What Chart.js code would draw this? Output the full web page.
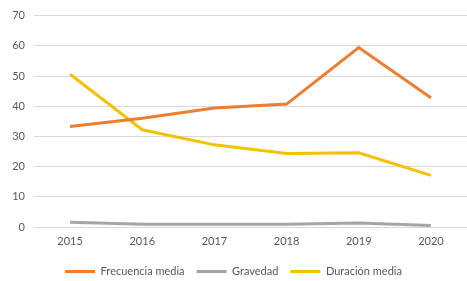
<!DOCTYPE html>
<html>
<head>
<meta charset="utf-8">
<script src="https://cdn.jsdelivr.net/npm/chart.js@4"></script>
<style>
	html, body { margin: 0; padding: 0; background: #fff; }
	#wrap { width: 467px; height: 281px; }
</style>
</head>
<body>
<div id="wrap"><canvas id="chart1"></canvas></div>
<script>
// data
const years = ['2015', '2016', '2017', '2018', '2019', '2020'];
const frecuencia = [33.3, 36.0, 39.4, 40.7, 59.4, 42.8];
const gravedad = [1.6, 0.9, 0.9, 0.9, 1.3, 0.5];
const duracion = [50.6, 32.2, 27.2, 24.3, 24.6, 17.1];
const yTicks = [0, 10, 20, 30, 40, 50, 60, 70];

const fontBase = { family: 'Lato, "Open Sans", sans-serif', size: 11 };

function line(label, data, color) {
	return {
		label: label,
		data: data,
		borderColor: color,
		backgroundColor: color,
		borderWidth: 3,
		pointRadius: 0,
		tension: 0,
		fill: false
	};
}

const ds = {
	labels: years,
	datasets: [
		line('Frecuencia media', frecuencia, '#ED7D31'),
		line('Gravedad', gravedad, '#A5A5A5'),
		line('Duración media', duracion, '#F2C200')
	]
};

const options = {
	responsive: true,
	maintainAspectRatio: false,
	animation: false,
	// legend sits a bit low, so let its bottom padding run off the canvas
	layout: { padding: { top: 6, right: 0, left: 0, bottom: -6 } },
	plugins: {
		legend: {
			position: 'bottom',
			labels: {
				usePointStyle: true,
				pointStyle: 'line',
				pointStyleWidth: 30,
				color: '#595959',
				font: fontBase,
				padding: 12
			}
		},
		tooltip: { enabled: false }
	},
	scales: {
		x: {
			offset: true,
			grid: { display: false, drawTicks: false },
			border: { display: false },
			ticks: { color: '#595959', font: fontBase, padding: 8 },
			afterFit: (a) => { a.height = 27; }
		},
		y: {
			min: 0,
			max: 70,
			afterBuildTicks: (a) => { a.ticks = yTicks.map(v => ({ value: v })); },
			grid: { color: '#D9D9D9', drawTicks: false },
			border: { display: false },
			ticks: { color: '#595959', font: fontBase, padding: 9 },
			afterFit: (a) => { a.width = 34; }
		}
	}
};

const ctx1 = document.getElementById('chart1').getContext('2d');
const myChart = new Chart(ctx1, { type: 'line', data: ds, options: options });
</script>
</body>
</html>
